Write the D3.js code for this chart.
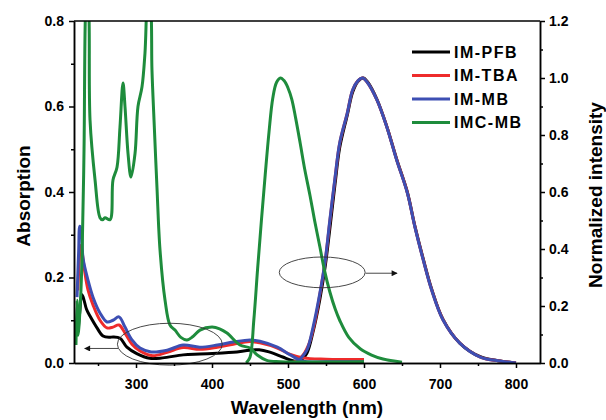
<!DOCTYPE html>
<head>
  <meta charset="utf-8">
  <script src="https://d3js.org/d3.v7.min.js"></script>
  <style>
    body { margin:0; background:#fff; }
    text { font-family: Arial, "Liberation Sans", sans-serif; font-weight: bold; fill:#000; }
  </style>
</head>
<body>
<script>
  // absorption spectra (left axis) : [wavelength nm, absorbance]
  var absPFB = [[223.7,0.072],[226,0.12],[228.5,0.16],[230.3,0.155],[235,0.125],[240,0.108],[248.7,0.082],[256.6,0.063],[265,0.06],[270,0.061],[279,0.058],[288,0.037],[301,0.022],[318,0.011],[335,0.012],[362,0.019],[384,0.021],[407,0.023],[428,0.025],[450,0.03],[462,0.031],[475,0.026],[493,0.014],[505,0.006],[516,0.002],[530,0.0]];
  var absTBA = [[223.5,0.17],[225,0.23],[227,0.275],[229,0.26],[232,0.22],[236.8,0.171],[243.4,0.136],[252.6,0.1],[261.8,0.082],[269.7,0.084],[277.6,0.089],[285.5,0.07],[294.7,0.044],[305.3,0.028],[322,0.017],[341,0.025],[362,0.036],[384,0.032],[407,0.037],[428,0.044],[450,0.05],[463,0.047],[486,0.035],[503,0.02],[520,0.012],[550,0.009],[600,0.008]];
  var absMB = [[222.4,0.154],[224.5,0.26],[226,0.32],[228,0.31],[230.3,0.245],[236.8,0.194],[243.4,0.154],[252.6,0.117],[261.8,0.096],[269.7,0.1],[277.6,0.108],[285.5,0.084],[294.7,0.054],[305.3,0.035],[320,0.026],[341,0.03],[362,0.042],[384,0.037],[407,0.042],[428,0.049],[450,0.054],[463,0.051],[486,0.037],[503,0.019],[520,0.004],[550,0.003],[600,0.003]];
  var absIMC = [[221,0.042],[222.4,0.147],[223.7,0.065],[226.3,0.124],[228.9,0.24],[231.6,0.5],[233.5,0.82],[235.5,0.88],[238,0.82],[239.5,0.568],[246.1,0.428],[252.6,0.34],[256,0.335],[259.2,0.34],[265.8,0.335],[269.7,0.428],[275,0.458],[278.9,0.552],[282.9,0.655],[285.5,0.6],[289.5,0.49],[293.4,0.435],[298.7,0.49],[302.6,0.6],[307.9,0.646],[311.8,0.725],[315.8,0.86],[319,0.84],[321,0.685],[323.7,0.568],[327.6,0.41],[331.6,0.264],[338.2,0.147],[344.7,0.089],[351.3,0.077],[359,0.06],[367.1,0.054],[375,0.062],[384.2,0.077],[400,0.084],[410,0.08],[419.7,0.07],[436.8,0.042],[450,0.035],[460,0.018],[472,0.006],[490,0.003],[600,0.003]];

  // emission spectra (right axis) : [wavelength nm, normalized intensity]
  var emPFB = [[505,0.0],[518,0.012],[525,0.035],[533,0.11],[542,0.225],[549,0.34],[555,0.47],[562,0.63],[568,0.755],[578,0.87],[585,0.95],[592,0.988],[599,1.0],[605,0.985],[617,0.925],[630,0.83],[643,0.715],[657,0.6],[667,0.48],[678,0.365],[689,0.26],[704,0.153],[726,0.07],[753,0.022],[779,0.007],[800,0.0]];
  var emTBA = [[500,0.0],[512,0.008],[520,0.028],[528,0.07],[535,0.14],[542,0.242],[549,0.358],[555,0.495],[562,0.65],[568,0.77],[578,0.877],[585,0.957],[592,0.99],[598,1.0],[604,0.986],[617,0.923],[630,0.829],[643,0.713],[657,0.598],[667,0.478],[678,0.362],[689,0.257],[704,0.152],[726,0.07],[753,0.021],[779,0.007],[800,0.0]];
  var emMB = [[505,0.0],[512,0.005],[518,0.02],[525,0.046],[533,0.126],[542,0.246],[549,0.361],[555,0.5],[562,0.653],[568,0.772],[578,0.877],[585,0.958],[592,0.99],[598,1.0],[604,0.986],[617,0.923],[630,0.828],[643,0.712],[657,0.597],[667,0.477],[678,0.361],[689,0.256],[704,0.151],[726,0.07],[753,0.021],[779,0.007],[800,0.0]];
  var emIMC = [[445,0.0],[450,0.02],[455,0.15],[460,0.33],[465,0.5],[470,0.66],[475,0.81],[480,0.93],[485,0.985],[490,1.0],[495,0.99],[500,0.965],[505,0.925],[510,0.86],[516,0.772],[522,0.68],[529,0.587],[535,0.5],[542,0.407],[548,0.325],[555,0.25],[562,0.19],[568,0.15],[580,0.09],[595,0.05],[610,0.028],[625,0.014],[650,0.003]];

  var seriesNames = ["IM-PFB", "IM-TBA", "IM-MB", "IMC-MB"];
  var seriesColors = ["#000000", "#ee2b2b", "#3d4fb3", "#1e8c3c"];
  var absSeries = [absPFB, absTBA, absMB, absIMC];
  var emSeries = [emPFB, emTBA, emMB, emIMC];

  var xTicks = [300, 400, 500, 600, 700, 800];
  var leftTicks = [0.0, 0.2, 0.4, 0.6, 0.8];
  var rightTicks = [0.0, 0.2, 0.4, 0.6, 0.8, 1.0, 1.2];

  // annotation ellipses + arrows, in data units
  var ellipses = [
    {side: "left", cx: 344.5, cy: 0.044, rx: 69, ry: 0.049, x1: 276.5, x2: 232.5, ya: 0.034},
    {side: "right", cx: 545, cy: 0.318, rx: 56.5, ry: 0.054, x1: 602, x2: 643.5, ya: 0.315}
  ];

  var W = 606, H = 420;
  var L = 74, R = 540, T = 21, B = 363;

  var svg = d3.select("body").append("svg")
    .attr("width", W).attr("height", H);

  var x = d3.scaleLinear().domain([218.4, 831.6]).range([L, R]);
  var yL = d3.scaleLinear().domain([0, 0.8]).range([B, T]);
  var yR = d3.scaleLinear().domain([0, 1.2]).range([B, T]);

  svg.append("clipPath").attr("id", "plot")
    .append("rect").attr("x", L).attr("y", T).attr("width", R - L).attr("height", B - T);

  var curves = svg.append("g").attr("clip-path", "url(#plot)");

  function drawLine(data, yScale, color) {
    var line = d3.line()
      .x(function (d) { return x(d[0]); })
      .y(function (d) { return yScale(d[1]); })
      .curve(d3.curveCatmullRom.alpha(0.5));
    curves.append("path")
      .datum(data)
      .attr("d", line)
      .attr("fill", "none")
      .attr("stroke", color)
      .attr("stroke-width", 3)
      .attr("stroke-linejoin", "round");
  }

  for (var i = 0; i < 4; i++) {
    drawLine(absSeries[i], yL, seriesColors[i]);
    drawLine(emSeries[i], yR, seriesColors[i]);
  }

  // ellipses and arrows
  svg.append("defs").append("marker")
    .attr("id", "arrow").attr("viewBox", "0 0 10 10")
    .attr("refX", 9).attr("refY", 5)
    .attr("markerWidth", 9).attr("markerHeight", 6)
    .attr("markerUnits", "userSpaceOnUse")
    .attr("orient", "auto")
    .append("path").attr("d", "M0,0 L10,5 L0,10 z").attr("fill", "#111");

  ellipses.forEach(function (e) {
    var ys = e.side == "left" ? yL : yR;
    svg.append("ellipse")
      .attr("cx", x(e.cx)).attr("cy", ys(e.cy))
      .attr("rx", x(e.cx + e.rx) - x(e.cx))
      .attr("ry", ys(0) - ys(e.ry))
      .attr("fill", "none").attr("stroke", "#333").attr("stroke-width", 0.9);
    svg.append("line")
      .attr("x1", x(e.x1)).attr("x2", x(e.x2))
      .attr("y1", ys(e.ya)).attr("y2", ys(e.ya))
      .attr("stroke", "#333").attr("stroke-width", 0.9)
      .attr("marker-end", "url(#arrow)");
  });

  // frame
  svg.append("line").attr("x1", L).attr("x2", R).attr("y1", T).attr("y2", T)
    .attr("stroke", "#000").attr("stroke-width", 1.5);

  // axes
  function styleAxis(g) {
    g.select(".domain").attr("stroke-width", 1.5);
    g.selectAll(".tick line").attr("stroke-width", 1.5);
    g.selectAll("text").style("font-size", "14px").style("font-family", "Arial, 'Liberation Sans', sans-serif").style("font-weight", "bold");
  }

  var xMinor = d3.range(250, 831, 50).filter(function (v) { return v % 100 != 0; });
  svg.append("g").attr("transform", "translate(0," + B + ")")
    .call(d3.axisBottom(x).tickValues(xMinor).tickSize(3).tickFormat("").tickSizeOuter(0))
    .call(styleAxis);
  svg.append("g").attr("transform", "translate(0," + B + ")")
    .call(d3.axisBottom(x).tickValues(xTicks).tickSize(5).tickPadding(11).tickSizeOuter(0))
    .call(styleAxis);

  var lMinor = d3.range(0.1, 0.8, 0.2);
  svg.append("g").attr("transform", "translate(" + L + ",0)")
    .call(d3.axisLeft(yL).tickValues(lMinor).tickSize(3).tickFormat("").tickSizeOuter(0))
    .call(styleAxis);
  svg.append("g").attr("transform", "translate(" + L + ",0)")
    .call(d3.axisLeft(yL).tickValues(leftTicks).tickSize(5).tickPadding(5).tickFormat(d3.format(".1f")).tickSizeOuter(0))
    .call(styleAxis);

  var rMinor = d3.range(0.1, 1.2, 0.2);
  svg.append("g").attr("transform", "translate(" + R + ",0)")
    .call(d3.axisRight(yR).tickValues(rMinor).tickSize(3).tickFormat("").tickSizeOuter(0))
    .call(styleAxis);
  svg.append("g").attr("transform", "translate(" + R + ",0)")
    .call(d3.axisRight(yR).tickValues(rightTicks).tickSize(5).tickPadding(4).tickFormat(d3.format(".1f")).tickSizeOuter(0))
    .call(styleAxis);

  // titles
  svg.append("text").attr("x", (L + R) / 2 + 0).attr("y", 414)
    .attr("text-anchor", "middle").style("font-size", "19px")
    .text("Wavelength (nm)");
  svg.append("text").attr("transform", "translate(30,196) rotate(-90)")
    .attr("text-anchor", "middle").style("font-size", "19px")
    .text("Absorption");
  svg.append("text").attr("transform", "translate(602,195) rotate(-90)")
    .attr("text-anchor", "middle").style("font-size", "19px")
    .text("Normalized intensity");

  // legend
  var legend = svg.append("g");
  seriesNames.forEach(function (name, i) {
    var yy = 52 + i * 23.5;
    legend.append("line").attr("x1", 412).attr("x2", 450).attr("y1", yy).attr("y2", yy)
      .attr("stroke", seriesColors[i]).attr("stroke-width", 3);
    legend.append("text").attr("x", 454).attr("y", yy + 5.5)
      .style("font-size", "16px").style("letter-spacing", "1.5px")
      .text(name);
  });
</script>
</body>
